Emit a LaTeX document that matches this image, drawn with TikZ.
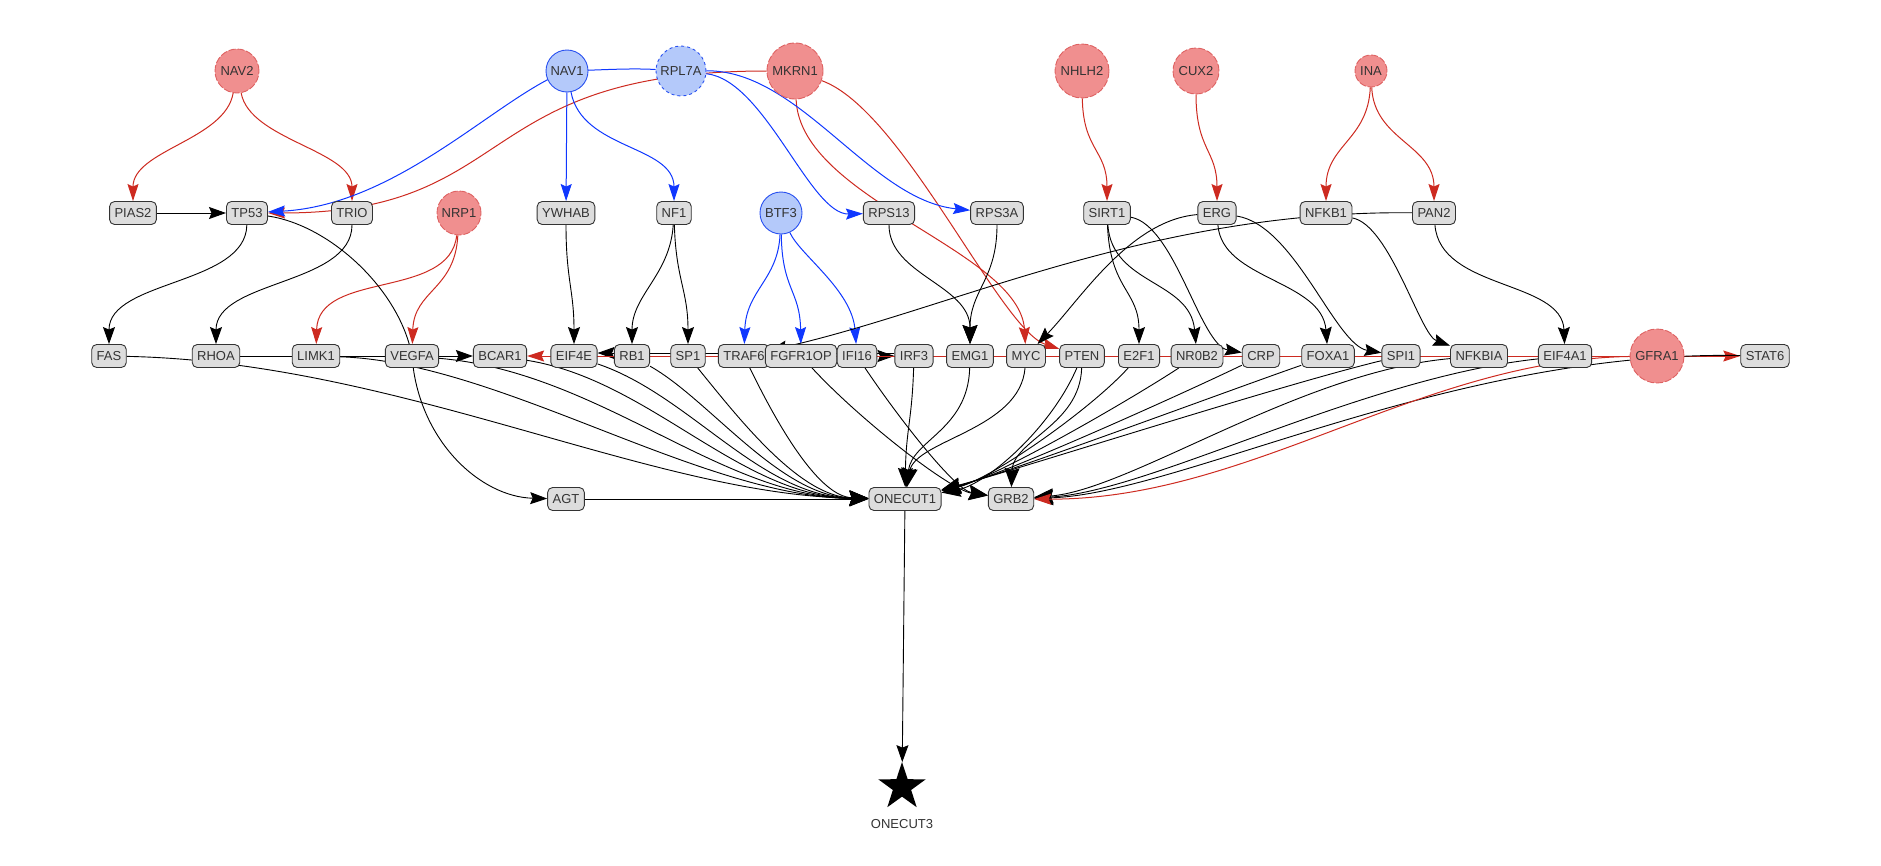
\documentclass[tikz,border=0pt]{standalone}
\usepackage{fontspec}
\setmainfont{Liberation Sans}
\usetikzlibrary{shapes.geometric, arrows.meta}
\definecolor{boxfill}{RGB}{221,221,221}
\definecolor{boxline}{RGB}{51,51,51}
\definecolor{labelgray}{RGB}{51,51,51}
\definecolor{seedred}{RGB}{240,143,143}
\definecolor{seedredline}{RGB}{222,98,98}
\definecolor{seedblue}{RGB}{180,201,250}
\definecolor{seedblueline}{RGB}{40,80,240}
\definecolor{edgered}{RGB}{205,42,32}
\definecolor{edgeblue}{RGB}{15,55,255}
\pgfdeclarelayer{edges}
\pgfsetlayers{edges,main}
\newcommand{\genefont}{\fontsize{13pt}{15pt}\selectfont}
\tikzset{
    gene/.style={rectangle, draw=boxline, fill=boxfill, line width=0.9pt, rounded corners=5pt, minimum height=23pt, inner xsep=5pt, inner ysep=0pt, text=labelgray, font=\genefont},
    redseed/.style={circle, draw=seedredline, fill=seedred, dash pattern=on 7pt off 2pt, line width=0.9pt, inner sep=0pt, text=labelgray, font=\genefont},
    blueseed/.style={circle, draw=seedblueline, fill=seedblue, line width=0.9pt, inner sep=0pt, text=labelgray, font=\genefont}
}
\begin{document}
\begin{tikzpicture}[
    x=1pt, y=-1pt,
    redarrow/.style={-{Stealth[length=17pt,width=11pt,inset=2.5pt]}, edgered, line width=1pt},
    bluearrow/.style={-{Stealth[length=17pt,width=11pt,inset=2.5pt]}, edgeblue, line width=1pt},
    blackarrow/.style={-{Stealth[length=17pt,width=12pt,inset=2.5pt]}, black, line width=0.9pt},
    bigarrow/.style={-{Stealth[length=19pt,width=15pt,inset=2.5pt]}, black, line width=0.9pt}
]
    \useasboundingbox (0,0) rectangle (1881,865);

    % Seed genes
    \node[redseed, minimum size=44pt] (nav2) at (237,71) {NAV2};
    \node[blueseed, minimum size=42pt] (nav1) at (567,71) {NAV1};
    \node[blueseed, dashed, minimum size=50pt] (rpl7a) at (681,71) {RPL7A};
    \node[redseed, minimum size=56pt] (mkrn1) at (795,71) {MKRN1};
    \node[redseed, minimum size=54pt] (nhlh2) at (1082,71) {NHLH2};
    \node[redseed, minimum size=46pt] (cux2) at (1196,71) {CUX2};
    \node[redseed, minimum size=32pt] (ina) at (1371,71) {INA};

    % Second row
    \node[gene] (pias2) at (133,213) {PIAS2};
    \node[gene] (tp53) at (247,213) {TP53};
    \node[gene] (trio) at (352,213) {TRIO};
    \node[redseed, minimum size=44pt] (nrp1) at (459,213) {NRP1};
    \node[gene] (ywhab) at (566,213) {YWHAB};
    \node[gene] (nf1) at (674,213) {NF1};
    \node[blueseed, minimum size=42pt] (btf3) at (781,213) {BTF3};
    \node[gene] (rps13) at (889,213) {RPS13};
    \node[gene] (rps3a) at (997,213) {RPS3A};
    \node[gene] (sirt1) at (1107,213) {SIRT1};
    \node[gene] (erg) at (1217,213) {ERG};
    \node[gene] (nfkb1) at (1326,213) {NFKB1};
    \node[gene] (pan2) at (1434,213) {PAN2};

    % Third row
    \node[gene] (fas) at (109,356) {FAS};
    \node[gene] (rhoa) at (216,356) {RHOA};
    \node[gene] (limk1) at (316,356) {LIMK1};
    \node[gene] (vegfa) at (412,356) {VEGFA};
    \node[gene] (bcar1) at (500,356) {BCAR1};
    \node[gene] (eif4e) at (574,356) {EIF4E};
    \node[gene] (rb1) at (632,356) {RB1};
    \node[gene] (sp1) at (688,356) {SP1};
    \node[gene] (traf6) at (744,356) {TRAF6};
    \node[gene] (fgfr1op) at (801,356) {FGFR1OP};
    \node[gene] (ifi16) at (857,356) {IFI16};
    \node[gene] (irf3) at (914,356) {IRF3};
    \node[gene] (emg1) at (970,356) {EMG1};
    \node[gene] (myc) at (1026,356) {MYC};
    \node[gene] (pten) at (1082,356) {PTEN};
    \node[gene] (e2f1) at (1139,356) {E2F1};
    \node[gene] (nr0b2) at (1197,356) {NR0B2};
    \node[gene] (crp) at (1261,356) {CRP};
    \node[gene] (foxa1) at (1328,356) {FOXA1};
    \node[gene] (spi1) at (1401,356) {SPI1};
    \node[gene] (nfkbia) at (1479,356) {NFKBIA};
    \node[gene] (eif4a1) at (1565,356) {EIF4A1};
    \node[redseed, minimum size=54pt] (gfra1) at (1657,356) {GFRA1};
    \node[gene] (stat6) at (1765,356) {STAT6};

    % Bottom rows
    \node[gene] (agt) at (566,499) {AGT};
    \node[gene] (onecut1) at (905,499) {ONECUT1};
    \node[gene] (grb2) at (1011,499) {GRB2};
    \node[star, star points=5, star point ratio=2.6, fill=black, minimum size=50pt, inner sep=0pt] (onecut3) at (902,787) {};
    \node[text=labelgray, font=\genefont] (onecut3txt) at (902,824) {ONECUT3};

    \begin{pgfonlayer}{edges}
    % Red seed edges
    \draw[redarrow] (nav2) .. controls (225,140) and (133,150) .. (pias2);
    \draw[redarrow] (nav2) .. controls (250,140) and (352,150) .. (trio);
    \draw[redarrow] (nrp1) .. controls (450,300) and (318,270) .. (limk1);
    \draw[redarrow] (nrp1) .. controls (455,290) and (414,290) .. (vegfa);
    \draw[redarrow] (mkrn1) .. controls (470,71) and (520,213) .. (tp53);
    \draw[redarrow] (mkrn1) .. controls (800,200) and (1020,250) .. (myc);
    \draw[redarrow] (mkrn1) .. controls (903,110) and (1000,330) .. (pten);
    \draw[redarrow] (nhlh2) .. controls (1083,150) and (1107,150) .. (sirt1);
    \draw[redarrow] (cux2) .. controls (1196,150) and (1217,150) .. (erg);
    \draw[redarrow] (ina) .. controls (1368,140) and (1326,145) .. (nfkb1);
    \draw[redarrow] (ina) .. controls (1374,140) and (1434,145) .. (pan2);

    % Blue seed edges
    \draw[bluearrow] (rpl7a) .. controls (630,68) and (600,70) .. (nav1.center) .. controls (500,95) and (400,205) .. (tp53);
    \draw[bluearrow] (nav1) -- (ywhab);
    \draw[bluearrow] (nav1) .. controls (582,150) and (674,145) .. (nf1);
    \draw[bluearrow] (rpl7a) .. controls (765,80) and (810,215) .. (rps13);
    \draw[bluearrow] (rpl7a) .. controls (800,70) and (870,200) .. (rps3a);
    \draw[bluearrow] (btf3) .. controls (778,280) and (746,290) .. (traf6);
    \draw[bluearrow] (btf3) .. controls (782,290) and (800,290) .. (fgfr1op);
    \draw[bluearrow] (btf3) .. controls (800,255) and (852,290) .. (ifi16);

    % Second row to third row
    \draw[blackarrow] (pias2) -- (tp53);
    \draw[blackarrow] (tp53) .. controls (246,285) and (109,280) .. (fas);
    \draw[blackarrow] (trio) .. controls (352,285) and (216,280) .. (rhoa);
    \draw[blackarrow] (tp53) .. controls (330,225) and (400,290) .. (vegfa.center) .. controls (418,440) and (480,497) .. (agt);
    \draw[blackarrow] (ywhab) .. controls (566,280) and (574,290) .. (eif4e);
    \draw[blackarrow] (nf1) .. controls (670,275) and (632,295) .. (rb1);
    \draw[blackarrow] (nf1) .. controls (676,280) and (688,290) .. (sp1);
    \draw[bigarrow] (rps13) .. controls (889,275) and (970,285) .. (emg1);
    \draw[bigarrow] (rps3a) .. controls (997,280) and (970,290) .. (emg1);
    \draw[blackarrow] (sirt1) .. controls (1110,290) and (1139,290) .. (e2f1);
    \draw[blackarrow] (sirt1) .. controls (1112,285) and (1190,280) .. (nr0b2);
    \draw[blackarrow] (sirt1) .. controls (1175,225) and (1200,345) .. (crp);
    \draw[blackarrow] (erg) .. controls (1130,220) and (1080,300) .. (myc);
    \draw[blackarrow] (erg) .. controls (1222,280) and (1322,280) .. (foxa1);
    \draw[blackarrow] (erg) .. controls (1295,225) and (1335,345) .. (spi1);
    \draw[blackarrow] (nfkb1) .. controls (1390,225) and (1420,335) .. (nfkbia);
    \draw[blackarrow] (pan2) .. controls (1440,290) and (1562,280) .. (eif4a1);
    \draw[blackarrow] (pan2) .. controls (1150,210) and (950,310) .. (traf6);

    % Along the third row
    \draw[blackarrow] (rhoa) -- (bcar1);
    \draw[blackarrow] ([yshift=3pt]irf3.west) -- ([yshift=3pt]eif4e.east);
    \draw[blackarrow] (ifi16) -- (irf3);
    \draw[redarrow] (gfra1) -- (bcar1);
    \draw[redarrow] (gfra1) -- (stat6);

    % Into ONECUT1
    \draw[bigarrow] (fas) .. controls (400,362) and (650,495) .. (onecut1);
    \draw[bigarrow] (limk1) .. controls (500,362) and (700,497) .. (onecut1);
    \draw[bigarrow] (vegfa) .. controls (600,372) and (720,497) .. (onecut1);
    \draw[bigarrow] (bcar1) .. controls (650,380) and (740,497) .. (onecut1);
    \draw[bigarrow] (eif4e) .. controls (690,395) and (760,497) .. (onecut1);
    \draw[bigarrow] (rb1) .. controls (710,400) and (780,497) .. (onecut1);
    \draw[bigarrow] (sp1) .. controls (740,420) and (800,497) .. (onecut1);
    \draw[bigarrow] (traf6) .. controls (780,430) and (820,497) .. (onecut1);
    \draw[bigarrow] (agt) -- (onecut1);
    \draw[bigarrow] (irf3) .. controls (912,420) and (906,430) .. (onecut1);
    \draw[bigarrow] (emg1) .. controls (968,430) and (912,440) .. (onecut1);
    \draw[bigarrow] (myc) .. controls (1020,430) and (915,440) .. (onecut1);
    \draw[bigarrow] (pten) .. controls (1050,430) and (985,485) .. (onecut1);
    \draw[bigarrow] (e2f1) .. controls (1090,410) and (990,480) .. (onecut1);
    \draw[bigarrow] (nr0b2) .. controls (1130,400) and (995,478) .. (onecut1);
    \draw[bigarrow] (crp) .. controls (1180,395) and (1000,476) .. (onecut1);
    \draw[bigarrow] (foxa1) .. controls (1230,390) and (1005,474) .. (onecut1);
    \draw[bigarrow] (spi1) .. controls (1280,385) and (1010,472) .. (onecut1);

    % Into GRB2
    \draw[bigarrow] (fgfr1op) .. controls (860,420) and (950,490) .. (grb2);
    \draw[bigarrow] (ifi16) .. controls (900,420) and (955,490) .. (grb2);
    \draw[bigarrow] (pten) .. controls (1080,425) and (1013,440) .. (grb2);
    \draw[bigarrow] (nfkbia) .. controls (1300,372) and (1130,490) .. (grb2);
    \draw[bigarrow] (eif4a1) .. controls (1360,378) and (1150,492) .. (grb2);
    \draw[bigarrow] (stat6) .. controls (1450,350) and (1180,494) .. (grb2);
    \draw[redarrow] (gfra1) .. controls (1420,360) and (1250,500) .. (grb2);

    % Target
    \draw[blackarrow] (onecut1) -- (onecut3);
    \end{pgfonlayer}
\end{tikzpicture}
\end{document}
